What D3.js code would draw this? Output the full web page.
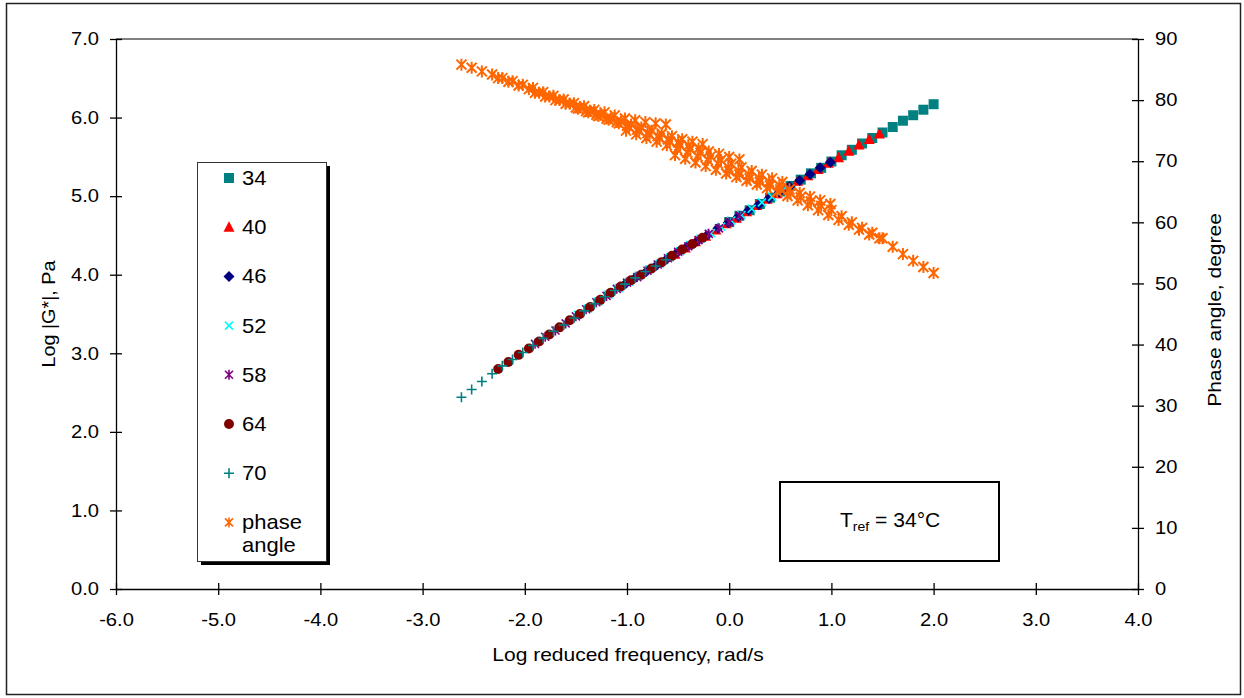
<!DOCTYPE html>
<html><head><meta charset="utf-8">
<script src="https://cdn.jsdelivr.net/npm/d3@7"></script>
<style>body{margin:0;background:#fff} svg{display:block;font-family:"Liberation Sans",Arial,sans-serif}</style>
</head><body><svg id="c" width="1244" height="698"></svg>
<script>
// ---- data ----
const temps = ["34","40","46","52","58","64","70"];
// test frequencies, log rad/s (same for every temperature)
const testLogFreq = [0.0,0.1,0.2,0.3,0.4,0.5,0.6,0.7,0.8,0.9,1.0,1.1,1.2,1.3,1.4,1.5,1.6,1.7,1.8,1.9,2.0];
// log shift factors relative to Tref = 34 C
const shiftFactors = [0,-0.53,-1.01,-1.48,-1.90,-2.26,-2.62];
// log |G*| (Pa)
const g34 = [4.67,4.75,4.82,4.90,4.98,5.06,5.13,5.21,5.29,5.36,5.44,5.52,5.59,5.67,5.74,5.81,5.88,5.96,6.03,6.10,6.17];
const g40 = [4.26,4.34,4.42,4.49,4.57,4.65,4.72,4.80,4.88,4.96,5.03,5.11,5.19,5.26,5.34,5.42,5.49,5.57,5.65,5.72,5.79];
const g46 = [3.89,3.97,4.04,4.12,4.20,4.28,4.36,4.43,4.51,4.59,4.66,4.74,4.82,4.89,4.97,5.05,5.12,5.20,5.28,5.36,5.43];
const g52 = [3.49,3.57,3.66,3.75,3.83,3.91,3.99,4.07,4.14,4.22,4.30,4.38,4.46,4.53,4.61,4.69,4.76,4.84,4.92,4.99,5.07];
const g58 = [3.12,3.21,3.29,3.38,3.47,3.56,3.65,3.73,3.82,3.90,3.97,4.05,4.13,4.21,4.29,4.36,4.44,4.52,4.59,4.67,4.75];
const g64 = [2.80,2.89,2.98,3.06,3.15,3.24,3.33,3.42,3.50,3.59,3.68,3.77,3.85,3.93,4.00,4.08,4.16,4.24,4.32,4.39,4.47];
const g70 = [2.44,2.54,2.64,2.74,2.84,2.92,3.01,3.10,3.19,3.28,3.36,3.45,3.54,3.63,3.72,3.80,3.88,3.96,4.04,4.11,4.19];
// phase angle (degree)
const p34 = [68.4,67.8,67.2,66.6,66.0,65.4,64.8,64.1,63.4,62.7,62.0,61.0,60.0,59.1,58.3,57.4,56.0,54.8,53.7,52.7,51.7];
const p40 = [71.0,70.4,69.8,69.2,68.6,68.0,67.4,66.8,66.2,65.6,65.0,64.3,63.6,62.8,62.0,61.2,60.4,59.6,58.8,58.0,57.4];
const p46 = [75.0,74.4,73.8,73.2,72.6,72.0,71.4,70.8,70.2,69.6,69.0,68.4,67.8,67.2,66.6,66.0,65.4,64.8,64.2,63.6,63.0];
const p52 = [78.6,78.0,77.4,76.8,76.2,75.6,75.0,74.4,73.8,73.2,72.6,72.0,71.4,70.8,70.2,69.6,69.0,68.4,67.8,67.2,66.6];
const p58 = [81.2,80.6,80.0,79.4,78.8,78.2,77.6,77.0,76.4,75.8,75.2,74.6,74.1,73.6,73.1,72.6,72.1,71.6,71.2,70.7,70.3];
const p64 = [83.6,83.0,82.4,81.8,81.2,80.6,80.0,79.4,78.8,78.2,77.6,77.0,76.5,76.0,75.5,75.0,74.5,74.1,73.6,73.2,72.8];
const p70 = [85.8,85.3,84.7,84.2,83.6,83.1,82.5,82.0,81.3,80.7,80.1,79.5,79.0,78.4,78.0,77.5,77.0,76.7,76.4,76.2,76.0];
const xTicks = [-6,-5,-4,-3,-2,-1,0,1,2,3,4];
const yTicks = [0,1,2,3,4,5,6,7];
const y2Ticks = [0,10,20,30,40,50,60,70,80,90];
const xTitle = "Log reduced frequency, rad/s";
const yTitle = "Log |G*|, Pa";
const y2Title = "Phase angle, degree";

// ---- chart ----
const gData = [g34,g40,g46,g52,g58,g64,g70];
const pData = [p34,p40,p46,p52,p58,p64,p70];
const styles = [
  {shape:"square",  fill:"#008080"},
  {shape:"triangle",fill:"#FF0000"},
  {shape:"diamond", fill:"#000080"},
  {shape:"x",       stroke:"#00FFFF"},
  {shape:"star",    stroke:"#800080"},
  {shape:"circle",  fill:"#800000"},
  {shape:"plus",    stroke:"#008080"}
];
const phaseStyle = {shape:"star", stroke:"#FF6600", big:true};

function markerPath(s){
  switch(s.shape){
    case "square": return "M-5,-5H5V5H-5Z";
    case "triangle": return "M0,-6L5.5,4.5H-5.5Z";
    case "diamond": return "M0,-5.5L5.5,0L0,5.5L-5.5,0Z";
    case "circle": return "M-5,0A5,5 0 1,0 5,0A5,5 0 1,0 -5,0Z";
    case "x": return "M-4,-4L4,4M-4,4L4,-4";
    case "plus": return "M-5,0H5M0,-5V5";
    case "star": return s.big ? "M-5,-5L5,5M-5,5L5,-5M0,-6V6" : "M-4,-4L4,4M-4,4L4,-4M0,-5V5";
  }
}
function drawMarker(sel, s){
  sel.append("path").attr("d", markerPath(s))
    .attr("fill", s.fill || "none")
    .attr("stroke", s.stroke || "none")
    .attr("stroke-width", s.stroke ? (s.big ? 2 : 1.6) : 0);
}

const svg = d3.select("#c");
svg.append("rect").attr("x",6.5).attr("y",3.5).attr("width",1234).attr("height",691)
  .attr("fill","#fff").attr("stroke","#222").attr("stroke-width",1.5);

const x = d3.scaleLinear().domain([-6,4]).range([116,1138]);
const y = d3.scaleLinear().domain([0,7]).range([589,39]);
const y2 = d3.scaleLinear().domain([0,90]).range([589,39]);

// top border of plot area
svg.append("line").attr("x1",x(-6)).attr("x2",x(4)).attr("y1",y(7)).attr("y2",y(7))
  .attr("stroke","#808080").attr("stroke-width",2);

const fmt1 = d => d.toFixed(1);
const SX = 1.12; // horizontal stretch of tick labels
const gx = svg.append("g").attr("transform",`translate(0,${y(0)})`)
  .call(d3.axisBottom(x).tickValues(xTicks).tickFormat(fmt1).tickSize(6).tickSizeOuter(0).tickPadding(18));
const gy = svg.append("g").attr("transform",`translate(${x(-6)},0)`)
  .call(d3.axisLeft(y).tickValues(yTicks).tickFormat(fmt1).tickSize(6).tickSizeOuter(0).tickPadding(11));
const gy2 = svg.append("g").attr("transform",`translate(${x(4)},0)`)
  .call(d3.axisRight(y2).tickValues(y2Ticks).tickFormat(d3.format("d")).tickSize(6).tickSizeOuter(0).tickPadding(11));
gx.selectAll(".tick line").attr("y1",-6);
gy.selectAll(".tick line").attr("x1",6);
gy2.selectAll(".tick line").attr("x1",-6);
[gx,gy,gy2].forEach(g=>{
  g.selectAll("text").attr("font-size",18).attr("font-family","Liberation Sans, Arial, sans-serif").attr("fill","#000");
  g.selectAll("line,path").attr("stroke","#000").attr("stroke-width",1.3);
});
gx.selectAll(".tick text").attr("transform",`scale(${SX},1)`);
gy.selectAll(".tick text").attr("x",-17/SX).attr("transform",`scale(${SX},1)`);
gy2.selectAll(".tick text").attr("x",17/SX).attr("transform",`scale(${SX},1)`);

// titles
svg.append("text").attr("transform","translate(628,661) scale(1.2,1)").attr("text-anchor","middle").attr("font-size",17.5).text(xTitle);
svg.append("text").attr("transform","translate(55,314) rotate(-90) scale(1.13,1)").attr("text-anchor","middle").attr("font-size",17.5).text(yTitle);
svg.append("text").attr("transform","translate(1221,310) rotate(-90) scale(1.2,1)").attr("text-anchor","middle").attr("font-size",17.5).text(y2Title);

// G* series
const plot = svg.append("g");
gData.forEach((vals,i)=>{
  const pts = vals.map((v,j)=>({x: testLogFreq[j] + shiftFactors[i], y: v}));
  plot.append("g").selectAll("g").data(pts).join("g")
    .attr("transform", d=>`translate(${x(d.x)},${y(d.y)})`)
    .each(function(){ drawMarker(d3.select(this), styles[i]); });
});
// phase angle (secondary axis)
pData.forEach((vals,i)=>{
  const pts = vals.map((v,j)=>({x: testLogFreq[j] + shiftFactors[i], y: v}));
  plot.append("g").selectAll("g").data(pts).join("g")
    .attr("transform", d=>`translate(${x(d.x)},${y2(d.y)})`)
    .each(function(){ drawMarker(d3.select(this), phaseStyle); });
});

// legend
const lg = svg.append("g");
lg.append("rect").attr("x",201).attr("y",166).attr("width",129).attr("height",399).attr("fill","#000");
lg.append("rect").attr("x",197.5).attr("y",162.5).attr("width",129).attr("height",399).attr("fill","#fff").attr("stroke","#333").attr("stroke-width",1);
const legendItems = temps.map((t,i)=>({label:[t], style:styles[i]})).concat([{label:["phase","angle"], style:phaseStyle}]);
legendItems.forEach((it,i)=>{
  const cy = 178 + i*49.2;
  const g = lg.append("g").attr("transform",`translate(229,${cy})`);
  drawMarker(g, it.style.big ? {shape:"star", stroke:it.style.stroke, big:false} : it.style);
  const t = lg.append("text").attr("transform",`translate(242,${cy+7}) scale(1.1,1)`).attr("font-size",20);
  it.label.forEach((l,k)=>t.append("tspan").attr("x",0).attr("dy",k? 23:0).text(l));
});

// Tref box
svg.append("rect").attr("x",780).attr("y",482).attr("width",219).attr("height",79)
  .attr("fill","#fff").attr("stroke","#000").attr("stroke-width",2);
const tt = svg.append("text").attr("transform","translate(840,527) scale(1.08,1)").attr("font-size",19.5);
tt.append("tspan").text("T");
tt.append("tspan").attr("font-size",13).attr("dy",4).text("ref");
tt.append("tspan").attr("dy",-4).text(" = 34°C");
</script></body></html>
